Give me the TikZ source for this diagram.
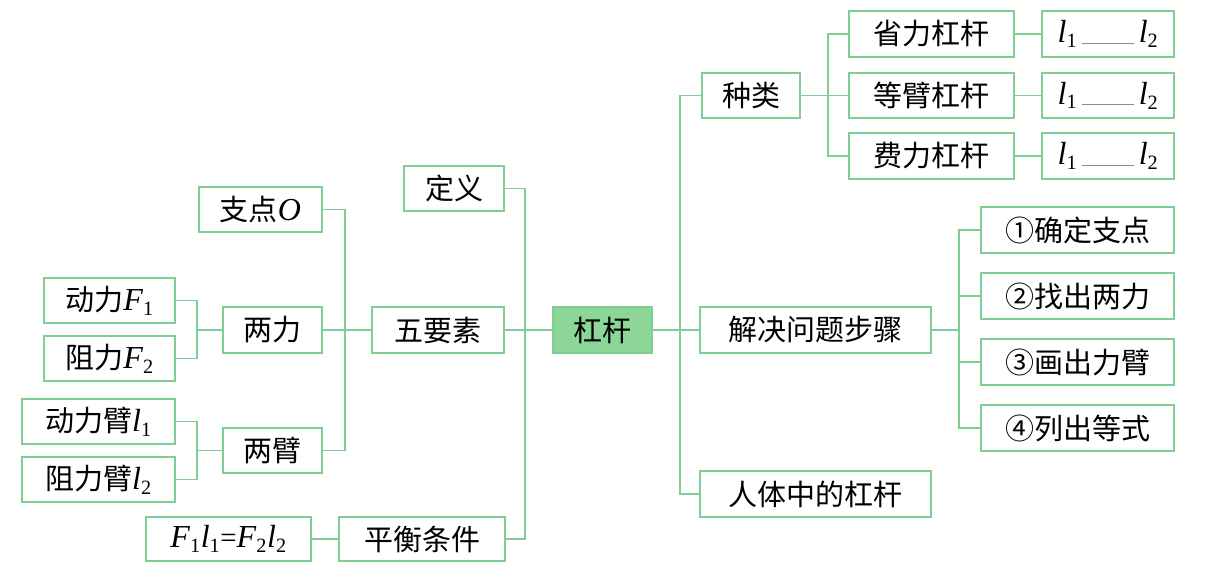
\documentclass[tikz,border=0pt]{standalone}
\usepackage{fontspec}
\setmainfont{Liberation Serif}
\newfontfamily\cjk{Noto Sans CJK SC}
\definecolor{lg}{RGB}{128,206,148}
\definecolor{lf}{RGB}{140,214,152}
\newcommand\Fi[1]{{\fontsize{32}{32}\selectfont\textit{F}}\textsubscript{#1}}
\newcommand\li[1]{{\fontsize{32}{32}\selectfont\textit{l}}\textsubscript{#1}}
\newcommand\blank{\,\textcolor{black!45}{\rule[-1pt]{52pt}{0.7pt}}\,}
\tikzset{
  bx/.style={draw=lg, line width=1.1pt, inner sep=0pt, font=\fontsize{29}{31}\selectfont, text=black},
  sz/.style 2 args={minimum width=#1pt, minimum height=#2pt},
  ln/.style={draw=lg, line width=1.1pt}
}
\begin{document}
\begin{tikzpicture}[x=1pt,y=-1pt]
\useasboundingbox (0,0) rectangle (1206,570);
% center
\node[bx, sz={99}{46}, fill=lf] (gg) at (602.5,330) {\cjk 杠杆};
% right side
\node[bx, sz={98}{45}] (zl) at (751,95.5) {\cjk 种类};
\node[bx, sz={165}{46}] (sl) at (931.5,34) {\cjk 省力杠杆};
\node[bx, sz={165}{45}] (dl) at (931.5,95.5) {\cjk 等臂杠杆};
\node[bx, sz={165}{46}] (fl) at (931.5,156) {\cjk 费力杠杆};
\node[bx, sz={132}{46}] (sl2) at (1108,34) {\li{1}\blank\li{2}};
\node[bx, sz={132}{45}] (dl2) at (1108,95.5) {\li{1}\blank\li{2}};
\node[bx, sz={132}{46}] (fl2) at (1108,156) {\li{1}\blank\li{2}};
\node[bx, sz={231}{46}] (jj) at (815.5,330) {\cjk 解决问题步骤};
\node[bx, sz={193}{46}] (s1) at (1077.5,230) {\cjk ①确定支点};
\node[bx, sz={193}{46}] (s2) at (1077.5,296) {\cjk ②找出两力};
\node[bx, sz={193}{46}] (s3) at (1077.5,362) {\cjk ③画出力臂};
\node[bx, sz={193}{46}] (s4) at (1077.5,428) {\cjk ④列出等式};
\node[bx, sz={231}{46}] (rt) at (815.5,494) {\cjk 人体中的杠杆};
% left side
\node[bx, sz={100}{45}] (dy) at (454,188.5) {\cjk 定义};
\node[bx, sz={132}{46}] (wy) at (438,330) {\cjk 五要素};
\node[bx, sz={166}{44}] (ph) at (422,539) {\cjk 平衡条件};
\node[bx, sz={165}{44}] (fe) at (228.5,539) {\Fi{1}\li{1}=\Fi{2}\li{2}};
\node[bx, sz={123}{45}] (zd) at (260.5,209.5) {{\cjk 支点}{\fontsize{32}{32}\selectfont\textit{O}}};
\node[bx, sz={99}{46}] (ll) at (272.5,330) {\cjk 两力};
\node[bx, sz={99}{45}] (lb) at (272.5,450.5) {\cjk 两臂};
\node[bx, sz={131}{45}] (f1) at (109.5,300.5) {{\cjk 动力}\Fi{1}};
\node[bx, sz={131}{45}] (f2) at (109.5,358.5) {{\cjk 阻力}\Fi{2}};
\node[bx, sz={153}{45}] (a1) at (98.5,421.5) {{\cjk 动力臂}\li{1}};
\node[bx, sz={153}{45}] (a2) at (98.5,479.5) {{\cjk 阻力臂}\li{2}};
% junction coordinates
\coordinate (tr) at (680,330);
\coordinate (b1) at (828,95.5);
\coordinate (b2) at (959,330);
\coordinate (tl) at (525,330);
\coordinate (tl2) at (345,330);
\coordinate (c1) at (197,330);
\coordinate (c2) at (197,450.5);
% connectors right
\draw[ln] (gg.east) -- (jj.west);
\draw[ln] (zl.west) -| (tr) |- (rt.west);
\draw[ln] (zl.east) -- (dl.west);
\draw[ln] (sl.west) -| (b1) |- (fl.west);
\draw[ln] (sl.east) -- (sl2.west);
\draw[ln] (dl.east) -- (dl2.west);
\draw[ln] (fl.east) -- (fl2.west);
\draw[ln] (jj.east) -- (b2);
\draw[ln] (s1.west) -| (b2) |- (s4.west);
\draw[ln] (s2.west) -| (b2);
\draw[ln] (s3.west) -| (b2);
% connectors left
\draw[ln] (gg.west) -- (wy.east);
\draw[ln] (dy.east) -| (tl) |- (ph.east);
\draw[ln] (fe.east) -- (ph.west);
\draw[ln] (ll.east) -- (wy.west);
\draw[ln] (zd.east) -| (tl2) |- (lb.east);
\draw[ln] (f1.east) -| (c1) |- (f2.east);
\draw[ln] (c1) -- (ll.west);
\draw[ln] (a1.east) -| (c2) |- (a2.east);
\draw[ln] (c2) -- (lb.west);
\end{tikzpicture}
\end{document}
